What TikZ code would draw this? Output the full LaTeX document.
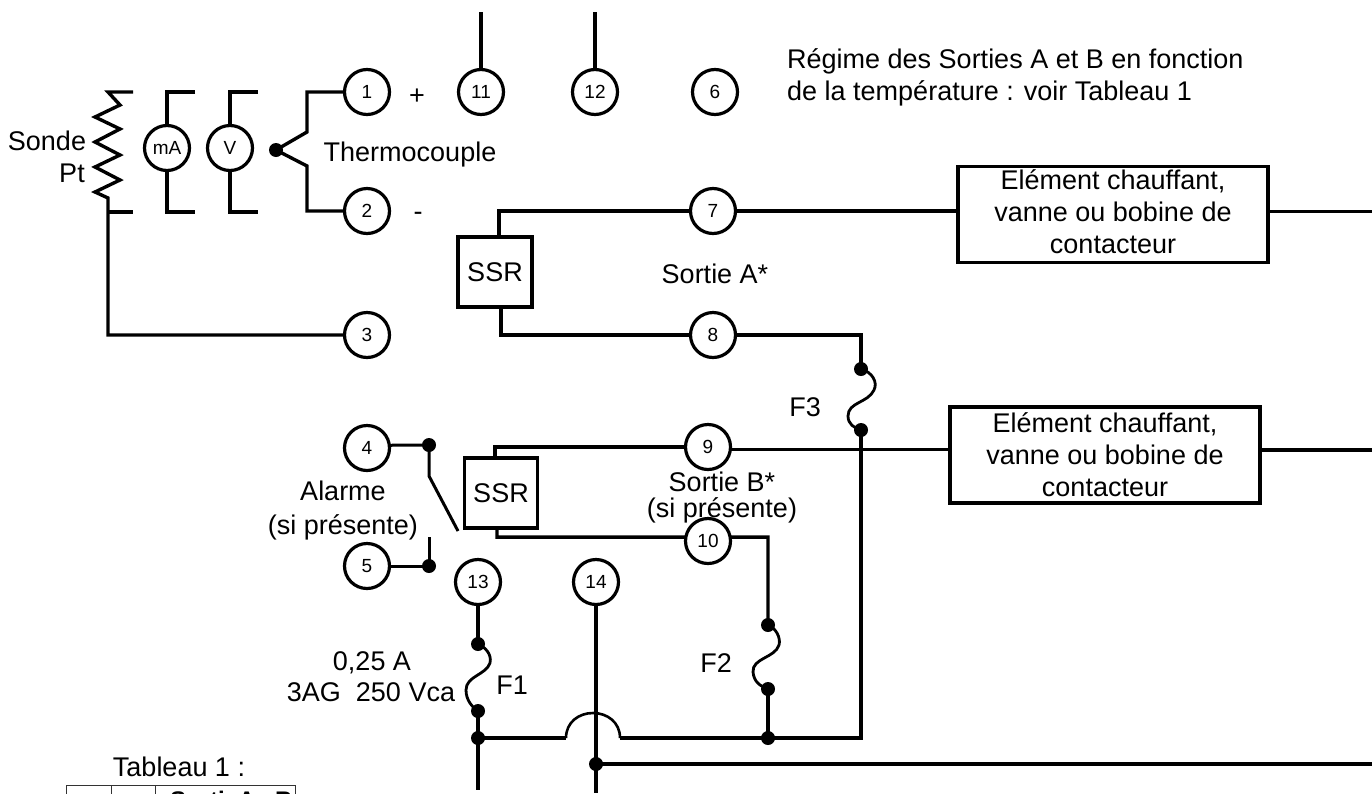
\documentclass[tikz,border=0pt]{standalone}
\usepackage{fontspec}
\setmainfont{Liberation Sans}
\begin{document}
\begin{tikzpicture}[x=1pt,y=-1pt,
  wire/.style={line width=3.4pt,line join=miter},
  fuse/.style={line width=2.8pt},
  term/.style={circle,draw,line width=3.2pt,minimum size=45pt,inner sep=0pt,outer sep=0pt,font=\fontsize{19}{21}\selectfont},
  meter/.style={term},
  lbl/.style={anchor=base,inner sep=0pt,font=\fontsize{27}{32}\selectfont},
  ssrbox/.style={rectangle,draw,line width=3.4pt,inner sep=0pt,outer sep=0pt,font=\fontsize{27}{32}\selectfont},
  loadbox/.style={rectangle,draw,line width=3.4pt,inner sep=0pt,outer sep=0pt,minimum width=310pt,minimum height=96pt,align=center,font=\fontsize{27}{32}\selectfont},
  jdot/.style={circle,fill=black,draw=none,minimum size=14pt,inner sep=0pt,outer sep=0pt},
  grid/.style={line width=1pt,draw=black!80}]
\useasboundingbox (0,0) rectangle (1372,793);
\clip (0,0) rectangle (1372,793);
% terminals
\node[term] (t1) at (367,92) {1};
\node[term] (t2) at (367,211) {2};
\node[term] (t3) at (367,335) {3};
\node[term] (t4) at (367,448) {4};
\node[term] (t5) at (367,566) {5};
\node[term] (t6) at (715,92) {6};
\node[term] (t7) at (713,211) {7};
\node[term] (t8) at (713,335) {8};
\node[term] (t9) at (708,447) {9};
\node[term] (t10) at (708,541) {10};
\node[term] (t11) at (481,92) {11};
\node[term] (t12) at (595,92) {12};
\node[term] (t13) at (478,582) {13};
\node[term] (t14) at (596,582) {14};
\node[meter] (mA) at (167,148) {mA};
\node[meter] (V) at (230,148) {V};
% boxes
\node[ssrbox,minimum width=74pt,minimum height=70pt] (s1) at (495,272) {SSR};
\node[ssrbox,minimum width=73pt,minimum height=70pt] (s2) at (501,493) {SSR};
\node[loadbox] (b1) at (1113,214.5) {Elément chauffant,\\vanne ou bobine de\\contacteur\\[-26pt]~};
\node[loadbox] (b2) at (1105,455) {Elément chauffant,\\vanne ou bobine de\\contacteur};
% junctions
\node[jdot] (jtc) at (276,150) {};
\node[jdot] (j4) at (429,445) {};
\node[jdot] (j5) at (429,566) {};
\node[jdot] (f1a) at (478,644) {};
\node[jdot] (f1b) at (478,711) {};
\node[jdot] (j1) at (478,738) {};
\node[jdot] (j14) at (596,764) {};
\node[jdot] (f2a) at (768,625) {};
\node[jdot] (f2b) at (768,689) {};
\node[jdot] (j2) at (768,738) {};
\node[jdot] (f3a) at (861,369) {};
\node[jdot] (f3b) at (861,430) {};
% free ends
\coordinate (top11) at (481,12);
\coordinate (top12) at (595,12);
\coordinate (ptTop) at (133,92);
\coordinate (ptBar) at (133,212);
\coordinate (ptJ) at (108,212);
\coordinate (ptEnd) at (108,198);
\coordinate (bot1) at (478,790);
\coordinate (bot14) at (596,793);
\coordinate (r14) at (1372,764);
\coordinate (r1) at (1372,211.5);
\coordinate (r2) at (1372,450);
\coordinate (ctA) at (429,476);
\coordinate (ctB) at (458,531);
\coordinate (ctC) at (429,537);
% Sonde Pt
\draw[wire] (ptTop) -- (108,92) -- (120,105) -- (95,117) -- (120,129) -- (95,142) -- (120,155) -- (95,167) -- (120,180) -- (95,192) -- (ptEnd) |- (t3.west);
\draw[wire] (ptJ) -- (ptBar);
% meters
\draw[wire] (195,92) -- (167,92) -- (mA.north);
\draw[wire] (mA.south) -- (167,212) -- (195,212);
\draw[wire] (258,92) -- (230,92) -- (V.north);
\draw[wire] (V.south) -- (230,212) -- (258,212);
% thermocouple
\draw[wire] (jtc.center) -- (307,132) -- (307,92) -- (t1.west);
\draw[wire] (jtc.center) -- (307,166) -- (307,211) -- (t2.west);
% top wires
\draw[wire] (top11) -- (t11.north);
\draw[wire] (top12) -- (t12.north);
% output A
\draw[wire] (499,0 |- s1.north) -- (499,211) -- (t7.west);
\draw[wire] (501,0 |- s1.south) -- (501,335) -- (t8.west);
\draw[wire] (t7.east) -- (b1.west |- t7.east);
\draw[wire] (b1.east |- r1) -- (r1);
\draw[wire] (t8.east) -- (861,335) -- (f3a.center);
\draw[fuse] (f3a.center) .. controls (872,372) and (878,382) .. (874,390) .. controls (868,403) and (848,402) .. (848,416) .. controls (848,424) and (854,428) .. (f3b.center);
\draw[wire] (f3b.center) -- (861,738) -- (j2.center);
% output B
\draw[wire] (495,0 |- s2.north) -- (495,447) -- (t9.west);
\draw[wire] (497,0 |- s2.south) -- (497,537.1) -- (t10.170);
\draw[wire] (t9.-7) -- (b2.west |- t9.-7);
\draw[wire] (b2.east |- r2) -- (r2);
\draw[wire] (t10.10) -- (768,537.1) -- (f2a.center);
\draw[fuse] (f2a.center) .. controls (776,628) and (781,638) .. (779,645) .. controls (775,658) and (752,658) .. (753,672) .. controls (754,682) and (760,686) .. (f2b.center);
\draw[wire] (f2b.center) -- (j2.center);
% alarm
\draw[wire,line width=3pt] (t4.7) -- (j4.center) -- (ctA) -- (ctB);
\draw[wire,line width=3pt] (t5.east) -- (j5.center) -- (ctC);
% power
\draw[wire] (t13.south) -- (f1a.center);
\draw[fuse] (f1a.center) .. controls (485,647) and (492,654) .. (490,663) .. controls (486,675) and (466,676) .. (466,690) .. controls (466,700) and (472,707) .. (f1b.center);
\draw[wire] (f1b.center) -- (j1.center) -- (bot1);
\draw[wire] (j1.center) -- (566,738);
\draw[wire,line width=2.6pt] (566,738) .. controls (566,722) and (579,713) .. (593,713) .. controls (607,713) and (620,722) .. (620,738);
\draw[wire] (620,738) -- (j2.center);
\draw[wire] (t14.south) -- (bot14);
\draw[wire] (j14.center) -- (r14);
% labels
\node[lbl] (l1) at (47,150) {Sonde};
\node[lbl] (l2) at (72,182) {Pt};
\node[lbl] (l3) at (410,161) {Thermocouple};
\node[lbl] (l4) at (417,104) {+};
\node[lbl] (l5) at (418,220) {-};
\node[lbl,anchor=base west] (l6) at (787,68) {Régime des Sorties A et B en fonction};
\node[lbl,anchor=base west] (l7) at (787,100) {de la température : voir Tableau 1};
\node[lbl] (l8) at (715,283) {Sortie A*};
\node[lbl] (l9) at (722,491) {Sortie B*};
\node[lbl] (l10) at (722,517) {(si présente)};
\node[lbl] (l11) at (805,416) {F3};
\node[lbl] (l12) at (343,500) {Alarme};
\node[lbl] (l13) at (343,534) {(si présente)};
\node[lbl] (l14) at (372,670) {0,25 A};
\node[lbl] (l15) at (371,701) {3AG\ \ 250 Vca};
\node[lbl] (l16) at (512,694) {F1};
\node[lbl] (l17) at (716,672) {F2};
\node[lbl] (l18) at (179,776) {Tableau 1 :};
% table (cut off by the page)
\draw[grid] (66,800) -- (66,785.5) -- (295,785.5) -- (295,800);
\draw[grid] (111,785.5) -- (111,800);
\draw[grid] (155.5,785.5) -- (155.5,800);
\node[lbl,font=\bfseries\fontsize{24}{26}\selectfont,anchor=base west] (l19) at (170,808) {Sortie};
\node[lbl,font=\bfseries\fontsize{24}{26}\selectfont,anchor=base west] (l20) at (238,808) {A};
\node[lbl,font=\bfseries\fontsize{24}{26}\selectfont,anchor=base west] (l21) at (275,808) {B};
\end{tikzpicture}
\end{document}
